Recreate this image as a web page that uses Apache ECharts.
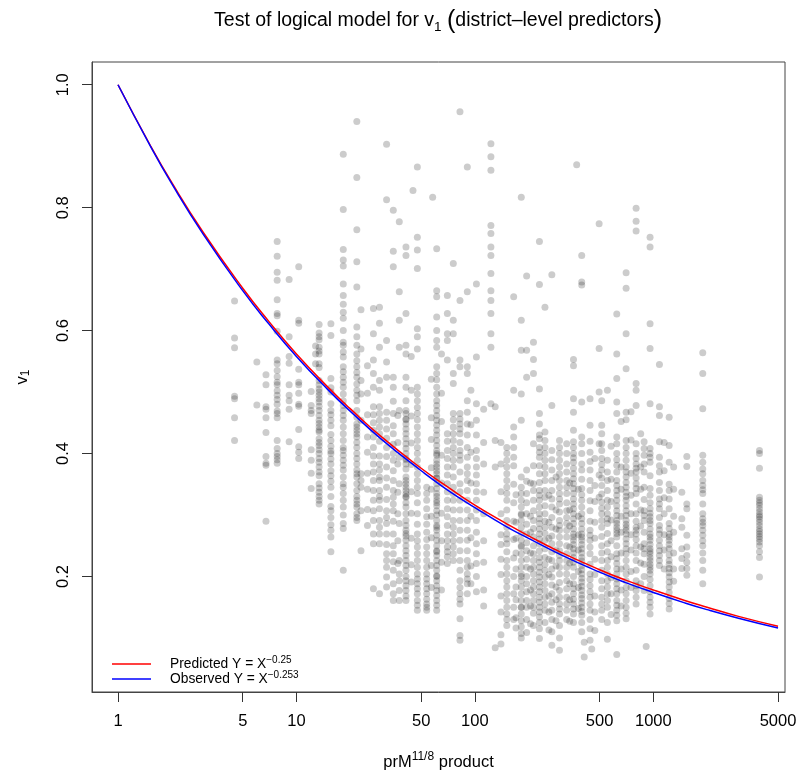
<!DOCTYPE html>
<html lang="en">
<head>
  <meta charset="UTF-8" />
  <title>Test of logical model for v1</title>
  <script src="https://cdn.jsdelivr.net/npm/echarts@6/dist/echarts.min.js"></script>
  <style>
    body { margin: 0; background: #fff; }
    #chart { width: 801px; height: 780px; }
  </style>
</head>
<body>
  <div id="chart"></div>
  <script>
    // x position of each vertical stripe of districts (prM^(11/8) product)
    const colX = [4.5, 6.0, 6.75, 7.8, 9.1, 10.3, 12.1, 12.8, 13.4, 15.6,
      18.3, 21.8, 23, 25, 27, 29.2, 32, 34.9, 37, 37.7, 41.1, 44, 45, 47.6, 53.7, 57, 58, 61.1, 65,
      70.1, 75.7, 82.5, 90.7, 95, 102, 112, 123, 130, 140, 151, 165, 170, 182, 195, 205, 213, 230, 247,
      260, 270, 285, 298, 327, 340, 357, 372, 380, 397, 410, 442, 452, 470, 497, 514, 553, 580, 624, 660,
      704, 750, 801, 850, 888, 912, 959, 1082, 1150, 1227, 1300, 1445, 1541, 1893, 3935];

    // v1 values observed in each stripe (same order as colX)
    const colY = [
      [0.648, 0.588, 0.572, 0.493, 0.489, 0.458, 0.421],
      [0.549, 0.479],
      [0.528, 0.512, 0.476, 0.472, 0.458, 0.434, 0.395, 0.384, 0.381, 0.290],
      [0.745, 0.721, 0.695, 0.682, 0.650, 0.628, 0.624, 0.599, 0.552, 0.546, 0.525, 0.516, 0.512, 0.502, 0.488, 0.469, 0.465, 0.421, 0.408, 0.400, 0.395, 0.384, 0.535, 0.495, 0.480, 0.458, 0.390],
      [0.683, 0.590, 0.558, 0.547, 0.512, 0.495, 0.486, 0.472, 0.419],
      [0.704, 0.617, 0.612, 0.537, 0.516, 0.512, 0.498, 0.480, 0.477, 0.439, 0.411, 0.402, 0.392],
      [0.501, 0.478, 0.470, 0.465, 0.406, 0.389, 0.368, 0.343],
      [0.575, 0.562, 0.546],
      [0.610, 0.596, 0.585, 0.573, 0.562, 0.546, 0.519, 0.505, 0.495, 0.484, 0.470, 0.454, 0.449, 0.443, 0.435, 0.424, 0.413, 0.400, 0.386, 0.378, 0.364, 0.351, 0.337, 0.324, 0.318,
       0.590, 0.567, 0.540, 0.512, 0.500, 0.489, 0.477, 0.462, 0.438, 0.418, 0.406, 0.392, 0.370, 0.344, 0.330],
      [0.611, 0.592, 0.522, 0.507, 0.481, 0.463, 0.454, 0.431, 0.421, 0.404, 0.400, 0.391, 0.383, 0.364, 0.345, 0.314, 0.307, 0.284, 0.264, 0.240,
       0.500, 0.470, 0.445, 0.412, 0.372, 0.355, 0.330, 0.296, 0.275],
      [0.887, 0.797, 0.732, 0.715, 0.705, 0.676, 0.657, 0.643, 0.630, 0.581, 0.576, 0.557, 0.541, 0.524, 0.508, 0.486, 0.470, 0.454, 0.432, 0.410, 0.405, 0.389, 0.373, 0.351, 0.345, 0.313, 0.286, 0.278, 0.210,
       0.620, 0.600, 0.565, 0.533, 0.516, 0.497, 0.478, 0.462, 0.443, 0.421, 0.397, 0.381, 0.362, 0.335, 0.324, 0.300],
      [0.940, 0.849, 0.764, 0.712, 0.671, 0.606, 0.576, 0.562, 0.541, 0.524, 0.513, 0.503, 0.486, 0.459, 0.448, 0.438, 0.427, 0.410, 0.400, 0.383, 0.373, 0.362, 0.351, 0.324, 0.313, 0.302, 0.291,
       0.590, 0.551, 0.532, 0.495, 0.470, 0.443, 0.432, 0.418, 0.392, 0.367, 0.340, 0.330, 0.318, 0.296],
      [0.634, 0.570, 0.519, 0.497, 0.454, 0.367, 0.356, 0.345, 0.307, 0.242],
      [0.543, 0.498, 0.463, 0.427, 0.402, 0.368, 0.342, 0.309, 0.283],
      [0.636, 0.595, 0.552, 0.530, 0.508, 0.476, 0.438, 0.427, 0.410, 0.383, 0.356, 0.324, 0.291, 0.269, 0.253, 0.180, 0.463, 0.450, 0.396, 0.370, 0.340, 0.307],
      [0.638, 0.612, 0.573, 0.519, 0.503, 0.476, 0.454, 0.432, 0.383, 0.373, 0.356, 0.340, 0.324, 0.291, 0.269, 0.253, 0.172, 0.465, 0.443, 0.420, 0.396, 0.362, 0.330, 0.310, 0.280],
      [0.903, 0.813, 0.584, 0.549, 0.524, 0.467, 0.454, 0.410, 0.378, 0.345, 0.307, 0.286, 0.269, 0.237, 0.215, 0.199, 0.183, 0.440, 0.425, 0.395, 0.360, 0.325, 0.296, 0.252, 0.226],
      [0.796, 0.729, 0.704, 0.524, 0.508, 0.465, 0.432, 0.400, 0.389, 0.356, 0.329, 0.307, 0.269, 0.237, 0.210, 0.172, 0.161, 0.485, 0.445, 0.415, 0.372, 0.340, 0.318, 0.290, 0.250, 0.224, 0.188],
      [0.462, 0.418, 0.383, 0.337, 0.302, 0.258, 0.221],
      [0.777, 0.663, 0.617, 0.573, 0.470, 0.394, 0.351, 0.286, 0.226, 0.204, 0.193, 0.177, 0.161],
      [0.736, 0.722, 0.628, 0.576, 0.562, 0.524, 0.508, 0.486, 0.465, 0.448, 0.432, 0.416, 0.400, 0.383, 0.362, 0.351, 0.340, 0.329, 0.313, 0.291, 0.275, 0.259, 0.242, 0.226, 0.210, 0.193, 0.177, 0.161,
       0.470, 0.456, 0.440, 0.424, 0.408, 0.392, 0.375, 0.356, 0.345, 0.334, 0.320, 0.302, 0.283, 0.266, 0.250, 0.234, 0.218, 0.200, 0.185, 0.168, 0.455, 0.390, 0.330, 0.270],
      [0.558, 0.503, 0.461, 0.417, 0.382, 0.338, 0.303, 0.262, 0.219, 0.191],
      [0.828],
      [0.866, 0.752, 0.731, 0.701, 0.603, 0.590, 0.570, 0.508, 0.497, 0.486, 0.465, 0.443, 0.421, 0.400, 0.378, 0.356, 0.335, 0.302, 0.269, 0.248, 0.226, 0.215, 0.204, 0.188, 0.172, 0.161, 0.145,
       0.475, 0.455, 0.432, 0.410, 0.389, 0.367, 0.345, 0.320, 0.285, 0.258, 0.237, 0.196, 0.180, 0.153],
      [0.345, 0.324, 0.297, 0.248, 0.226, 0.215, 0.204, 0.188, 0.172, 0.155, 0.145, 0.335, 0.310, 0.285, 0.272, 0.260, 0.237, 0.196, 0.180, 0.163, 0.150],
      [0.521, 0.458, 0.423, 0.377, 0.342, 0.298, 0.263, 0.218, 0.182],
      [0.817],
      [0.733, 0.665, 0.655, 0.622, 0.600, 0.584, 0.573, 0.541, 0.508, 0.486, 0.470, 0.454, 0.438, 0.421, 0.405, 0.389, 0.378, 0.367, 0.351, 0.335, 0.324, 0.307, 0.291, 0.275, 0.259, 0.242, 0.226, 0.210, 0.193, 0.177, 0.161, 0.145,
       0.530, 0.520, 0.497, 0.478, 0.462, 0.446, 0.430, 0.413, 0.397, 0.383, 0.372, 0.360, 0.343, 0.330, 0.315, 0.300, 0.283, 0.267, 0.250, 0.234, 0.218, 0.201, 0.185, 0.169, 0.153, 0.400, 0.360, 0.320, 0.280, 0.240, 0.200],
      [0.562, 0.498, 0.452, 0.397, 0.352, 0.303, 0.258, 0.223, 0.178],
      [0.657, 0.628, 0.595, 0.584, 0.552, 0.432, 0.405, 0.378, 0.351, 0.324, 0.297, 0.269, 0.248, 0.232, 0.221, 0.420, 0.392, 0.365, 0.338, 0.310, 0.283, 0.258, 0.240],
      [0.709, 0.617, 0.595, 0.530, 0.514, 0.465, 0.443, 0.421, 0.400, 0.378, 0.345, 0.324, 0.291, 0.269, 0.248, 0.226, 0.455, 0.432, 0.410, 0.389, 0.362, 0.335, 0.308, 0.280, 0.258, 0.237],
      [0.956, 0.649, 0.552, 0.541, 0.465, 0.448, 0.432, 0.405, 0.389, 0.351, 0.324, 0.291, 0.259, 0.226, 0.193, 0.172, 0.155, 0.131, 0.104, 0.096,
       0.456, 0.440, 0.418, 0.397, 0.370, 0.338, 0.308, 0.275, 0.242, 0.210, 0.182, 0.163],
      [0.866, 0.663, 0.541, 0.530, 0.486, 0.448, 0.410, 0.378, 0.356, 0.324, 0.291, 0.259, 0.226, 0.204, 0.188, 0.172, 0.467, 0.430, 0.394, 0.367, 0.340, 0.308, 0.275, 0.242, 0.215, 0.196],
      [0.503, 0.447, 0.402, 0.352, 0.298, 0.263, 0.217, 0.188],
      [0.676, 0.557, 0.481, 0.454, 0.405, 0.378, 0.351, 0.324, 0.291, 0.253, 0.221, 0.175, 0.430, 0.392, 0.365, 0.338, 0.308, 0.272, 0.237, 0.200],
      [0.472, 0.418, 0.383, 0.337, 0.302, 0.258, 0.223, 0.178, 0.152],
      [0.904, 0.883, 0.861, 0.771, 0.758, 0.736, 0.722, 0.693, 0.665, 0.649, 0.628, 0.595, 0.573, 0.481],
      [0.476, 0.421, 0.378, 0.084],
      [0.418, 0.383, 0.338, 0.302, 0.268, 0.252, 0.228, 0.203, 0.168, 0.142, 0.105, 0.090],
      [0.410, 0.389, 0.367, 0.345, 0.324, 0.291, 0.269, 0.253, 0.226, 0.204, 0.183, 0.161, 0.139,
       0.400, 0.378, 0.356, 0.335, 0.308, 0.280, 0.261, 0.240, 0.215, 0.193, 0.172, 0.150, 0.130, 0.120],
      [0.655, 0.503, 0.443, 0.427, 0.410, 0.394, 0.172, 0.380, 0.350, 0.320, 0.290, 0.260, 0.230, 0.200, 0.150, 0.130],
      [0.333, 0.288, 0.262, 0.238, 0.212, 0.183, 0.162, 0.133, 0.116],
      [0.817, 0.617, 0.568, 0.497, 0.454, 0.362, 0.345, 0.324, 0.302, 0.280, 0.259, 0.237, 0.215, 0.193, 0.172, 0.150, 0.128, 0.107, 0.100,
       0.335, 0.313, 0.291, 0.270, 0.248, 0.226, 0.204, 0.183, 0.161, 0.139, 0.118, 0.300, 0.250, 0.200, 0.150],
      [0.689, 0.568, 0.524, 0.373, 0.335, 0.302, 0.269, 0.242, 0.215, 0.188, 0.161, 0.109, 0.355, 0.320, 0.285, 0.255, 0.228, 0.200, 0.175, 0.150, 0.130],
      [0.352, 0.298, 0.272, 0.238, 0.212, 0.178, 0.152, 0.123],
      [0.581, 0.553, 0.530, 0.416, 0.351, 0.324, 0.291, 0.264, 0.237, 0.215, 0.193, 0.172, 0.150, 0.380, 0.340, 0.307, 0.278, 0.250, 0.226, 0.204, 0.183, 0.161, 0.140, 0.120],
      [0.745, 0.675, 0.505, 0.465, 0.448, 0.424, 0.410, 0.394, 0.367, 0.340, 0.324, 0.302, 0.286, 0.269, 0.253, 0.231, 0.215, 0.199, 0.183, 0.166, 0.150, 0.134, 0.099,
       0.430, 0.402, 0.380, 0.353, 0.332, 0.313, 0.294, 0.277, 0.261, 0.242, 0.223, 0.207, 0.191, 0.175, 0.158, 0.142, 0.125, 0.115],
      [0.638, 0.435, 0.421, 0.400, 0.378, 0.356, 0.329, 0.302, 0.280, 0.259, 0.231, 0.210, 0.188, 0.166, 0.145, 0.410, 0.389, 0.367, 0.340, 0.315, 0.290, 0.270, 0.245, 0.220, 0.199, 0.177, 0.155, 0.125],
      [0.332, 0.288, 0.262, 0.228, 0.203, 0.168, 0.142, 0.113],
      [0.691, 0.478, 0.405, 0.373, 0.340, 0.313, 0.280, 0.253, 0.226, 0.199, 0.172, 0.145, 0.088, 0.390, 0.356, 0.326, 0.296, 0.266, 0.240, 0.212, 0.186, 0.158, 0.130, 0.110],
      [0.362, 0.308, 0.277, 0.243, 0.217, 0.183, 0.162, 0.128],
      [0.421, 0.400, 0.378, 0.356, 0.335, 0.318, 0.291, 0.275, 0.253, 0.242, 0.226, 0.204, 0.177, 0.155, 0.139, 0.080,
       0.410, 0.389, 0.367, 0.345, 0.326, 0.305, 0.283, 0.264, 0.234, 0.215, 0.190, 0.166, 0.147, 0.120, 0.100],
      [0.416, 0.383, 0.356, 0.335, 0.307, 0.286, 0.264, 0.237, 0.215, 0.193, 0.166, 0.145, 0.400, 0.370, 0.345, 0.320, 0.296, 0.275, 0.250, 0.226, 0.204, 0.180, 0.155, 0.130],
      [0.352, 0.308, 0.282, 0.248, 0.222, 0.188, 0.162, 0.127],
      [0.553, 0.543, 0.489, 0.467, 0.438, 0.419, 0.400, 0.386, 0.367, 0.351, 0.335, 0.318, 0.302, 0.286, 0.269, 0.259, 0.245, 0.231, 0.215, 0.188, 0.172, 0.155, 0.139,
       0.410, 0.393, 0.376, 0.359, 0.343, 0.326, 0.310, 0.294, 0.277, 0.264, 0.252, 0.238, 0.223, 0.200, 0.180, 0.163, 0.147, 0.125],
      [0.870],
      [0.342, 0.298, 0.268, 0.243, 0.208, 0.182, 0.148],
      [0.722, 0.679, 0.674, 0.484, 0.427, 0.416, 0.373, 0.343, 0.324, 0.302, 0.286, 0.269, 0.259, 0.245, 0.231, 0.218, 0.204, 0.191, 0.177, 0.164, 0.150, 0.137,
       0.400, 0.383, 0.358, 0.333, 0.313, 0.294, 0.277, 0.264, 0.252, 0.238, 0.225, 0.211, 0.197, 0.184, 0.170, 0.157, 0.143, 0.125, 0.110],
      [0.069, 0.093],
      [0.489, 0.446, 0.402, 0.373, 0.340, 0.307, 0.275, 0.259, 0.237, 0.204, 0.185, 0.166, 0.145, 0.096, 0.420, 0.387, 0.356, 0.323, 0.290, 0.267, 0.248, 0.220, 0.195, 0.175, 0.155, 0.130, 0.115],
      [0.082],
      [0.392, 0.348, 0.322, 0.288, 0.262, 0.228, 0.203, 0.168, 0.142, 0.112],
      [0.774, 0.571, 0.500, 0.416, 0.365, 0.329],
      [0.486, 0.446, 0.432, 0.416, 0.392, 0.373, 0.348, 0.321, 0.302, 0.280, 0.250, 0.226, 0.193, 0.166, 0.145, 0.405, 0.382, 0.360, 0.334, 0.311, 0.291, 0.265, 0.238, 0.210, 0.180, 0.155, 0.130],
      [0.503, 0.389, 0.356, 0.324, 0.302, 0.286, 0.253, 0.226, 0.204, 0.183, 0.161, 0.098, 0.370, 0.340, 0.313, 0.294, 0.270, 0.240, 0.215, 0.193, 0.172, 0.150, 0.125],
      [0.412, 0.358, 0.322, 0.292, 0.258, 0.232, 0.198, 0.172, 0.138],
      [0.627, 0.562, 0.522, 0.484, 0.465, 0.427, 0.416, 0.400, 0.381, 0.356, 0.340, 0.324, 0.307, 0.291, 0.286, 0.275, 0.264, 0.237, 0.221, 0.204, 0.188, 0.172, 0.161, 0.145, 0.128, 0.073,
       0.390, 0.370, 0.348, 0.332, 0.315, 0.299, 0.280, 0.270, 0.250, 0.229, 0.212, 0.196, 0.180, 0.153, 0.137],
      [0.452, 0.378, 0.342, 0.298, 0.272, 0.238, 0.212, 0.178, 0.152],
      [0.694, 0.669, 0.595, 0.538, 0.467, 0.455, 0.421, 0.400, 0.378, 0.362, 0.345, 0.337, 0.324, 0.307, 0.291, 0.280, 0.269, 0.253, 0.237, 0.215, 0.193, 0.172, 0.150, 0.131,
       0.410, 0.389, 0.370, 0.353, 0.330, 0.315, 0.299, 0.285, 0.275, 0.261, 0.245, 0.226, 0.204, 0.182, 0.161, 0.140],
      [0.468, 0.422, 0.368, 0.332, 0.302, 0.268, 0.243, 0.208, 0.182],
      [0.799, 0.778, 0.762, 0.514, 0.503, 0.478, 0.416, 0.400, 0.383, 0.370, 0.351, 0.335, 0.302, 0.280, 0.269, 0.250, 0.226, 0.193, 0.177, 0.155,
       0.392, 0.376, 0.360, 0.343, 0.318, 0.290, 0.275, 0.260, 0.238, 0.210, 0.185, 0.166],
      [0.432, 0.378, 0.342, 0.308, 0.282, 0.248, 0.222, 0.188],
      [0.419, 0.408, 0.397, 0.383, 0.345, 0.307, 0.291, 0.253, 0.237, 0.177, 0.370, 0.325, 0.299, 0.272, 0.245, 0.220, 0.200],
      [0.086],
      [0.752, 0.736, 0.611, 0.571, 0.481, 0.408, 0.394, 0.386, 0.343, 0.332, 0.310, 0.297, 0.286, 0.269, 0.259, 0.245, 0.237, 0.226, 0.215, 0.204, 0.185, 0.166, 0.150, 0.139,
       0.400, 0.364, 0.320, 0.303, 0.291, 0.277, 0.264, 0.252, 0.241, 0.231, 0.220, 0.210, 0.195, 0.175, 0.158],
      [0.545, 0.476, 0.462, 0.419, 0.394, 0.370, 0.353, 0.326, 0.310, 0.283, 0.269, 0.250, 0.234, 0.218, 0.380, 0.340, 0.318, 0.296, 0.276, 0.259, 0.242, 0.226],
      [0.418, 0.372, 0.328, 0.302, 0.268, 0.243, 0.212],
      [0.459, 0.413, 0.386, 0.340, 0.326, 0.286, 0.269, 0.259, 0.245, 0.226, 0.213, 0.199, 0.183, 0.164, 0.147, 0.350, 0.310, 0.278, 0.264, 0.252, 0.235, 0.220, 0.206, 0.191, 0.174, 0.156],
      [0.378, 0.342, 0.298, 0.272, 0.238, 0.212, 0.192],
      [0.337, 0.294, 0.280, 0.245, 0.229, 0.213],
      [0.395, 0.379, 0.318, 0.310, 0.267, 0.248, 0.234, 0.223, 0.213, 0.202],
      [0.564, 0.530, 0.473, 0.397, 0.386, 0.375, 0.356, 0.348, 0.335, 0.302, 0.294, 0.283, 0.267, 0.250, 0.226, 0.188, 0.367, 0.341, 0.318, 0.288, 0.275, 0.258, 0.238, 0.210],
      [0.405, 0.400, 0.376, 0.329, 0.324, 0.316, 0.305, 0.297, 0.288, 0.277, 0.269, 0.261, 0.250, 0.231, 0.199, 0.320, 0.310, 0.300, 0.293, 0.283, 0.273, 0.265, 0.256, 0.240]
    ];

    // the two model curves
    const curveX = [1, 1.5, 2, 3, 5, 7, 10, 15, 20, 30, 50, 70, 100, 150, 200, 300, 500, 700, 1000, 1500, 2000, 3000, 5000];
    const predY = [1, 0.904, 0.841, 0.760, 0.669, 0.615, 0.562, 0.508, 0.473, 0.427, 0.376, 0.346, 0.316, 0.286, 0.266, 0.240, 0.211, 0.194, 0.178, 0.161, 0.150, 0.135, 0.119];
    const obsY = [1, 0.903, 0.839, 0.757, 0.665, 0.611, 0.558, 0.504, 0.469, 0.423, 0.372, 0.341, 0.312, 0.281, 0.262, 0.236, 0.207, 0.190, 0.174, 0.157, 0.146, 0.132, 0.116];

    const xTicks = [1, 5, 10, 50, 100, 500, 1000, 5000];
    const yTicks = [0.2, 0.4, 0.6, 0.8, 1.0];

    const FONT = '"Liberation Sans", Arial, sans-serif';
    const lg = v => Math.log10(v);

    // x is drawn on a log10 scale
    const points = [];
    colX.forEach((x, i) => colY[i].forEach(y => points.push([lg(x), y])));
    const predLine = curveX.map((x, i) => [lg(x), predY[i]]);
    const obsLine = curveX.map((x, i) => [lg(x), obsY[i]]);

    const fmtX = v => {
      const t = xTicks.find(t => Math.abs(lg(t) - v) < 1e-6);
      return t === undefined ? '' : String(t);
    };

    const chart = echarts.init(document.getElementById('chart'));

    chart.setOption({
      animation: false,
      textStyle: { fontFamily: FONT, color: '#000' },
      title: {
        text: '{b|Test of logical model for v}{sub|1}{b| }{par|(}{b|district\u2013level predictors}{par|)}',
        left: 438,
        top: 8,
        padding: 0,
        textAlign: 'center',
        textStyle: {
          fontFamily: FONT,
          fontWeight: 'normal',
          rich: {
            b: { fontFamily: FONT, fontSize: 19.5, lineHeight: 26, color: '#000' },
            par: { fontFamily: FONT, fontSize: 25, lineHeight: 26, color: '#000' },
            sub: { fontFamily: FONT, fontSize: 13.5, lineHeight: 13, verticalAlign: 'bottom', color: '#000' }
          }
        }
      },
      legend: {
        data: ['Predicted', 'Observed'],
        orient: 'vertical',
        left: 112,
        top: 655,
        padding: 0,
        itemGap: -1,
        icon: 'rect',
        itemWidth: 39,
        itemHeight: 1.5,
        formatter: n => n === 'Predicted'
          ? '{b|Predicted Y = X}{sup|\u22120.25}'
          : '{b|Observed Y = X}{sup|\u22120.253}',
        textStyle: {
          padding: [0, 0, 0, 14],
          rich: {
            b: { fontFamily: FONT, fontSize: 13.8, lineHeight: 18, color: '#000' },
            sup: { fontFamily: FONT, fontSize: 10, lineHeight: 9, verticalAlign: 'top', color: '#000' }
          }
        }
      },
      grid: {
        left: 92, right: 16, top: 62, bottom: 88,
        show: true, borderColor: '#444', borderWidth: 1,
        outerBoundsMode: 'none'
      },
      xAxis: {
        type: 'value',
        min: -0.1457,
        max: 3.738,
        name: '{b|prM}{sup|11/8}{b| product}',
        nameLocation: 'middle',
        nameGap: 59,
        nameTextStyle: {
          rich: {
            b: { fontFamily: FONT, fontSize: 16.5, lineHeight: 22, color: '#000' },
            sup: { fontFamily: FONT, fontSize: 12, lineHeight: 12, verticalAlign: 'top', color: '#000' }
          }
        },
        axisLine: { show: true, onZero: false, lineStyle: { color: '#444', width: 1 } },
        splitLine: { show: false },
        axisTick: { show: true, inside: false, customValues: xTicks.map(lg), length: 10, lineStyle: { color: '#333' } },
        axisLabel: {
          customValues: xTicks.map(lg),
          formatter: fmtX,
          margin: 21,
          fontSize: 16.5,
          color: '#000',
          fontFamily: FONT
        }
      },
      yAxis: {
        type: 'value',
        min: 0.012,
        max: 1.037,
        name: '{b|v}{sub|1}',
        nameLocation: 'middle',
        nameRotate: 90,
        nameGap: 60,
        nameTextStyle: {
          rich: {
            b: { fontFamily: FONT, fontSize: 16.5, lineHeight: 20, color: '#000' },
            sub: { fontFamily: FONT, fontSize: 12, lineHeight: 12, verticalAlign: 'bottom', color: '#000' }
          }
        },
        axisLine: { show: true, onZero: false, lineStyle: { color: '#444', width: 1 } },
        splitLine: { show: false },
        axisTick: { show: true, inside: false, customValues: yTicks, length: 10, lineStyle: { color: '#333' } },
        axisLabel: {
          customValues: yTicks,
          formatter: v => v.toFixed(1),
          rotate: 90,
          margin: 20,
          fontSize: 16.5,
          color: '#000',
          fontFamily: FONT
        }
      },
      series: [
        {
          name: 'Districts',
          type: 'scatter',
          data: points,
          symbolSize: 7,
          silent: true,
          itemStyle: { color: 'rgba(0,0,0,0.25)' }
        },
        {
          name: 'Predicted',
          type: 'line',
          data: predLine,
          smooth: true,
          showSymbol: false,
          silent: true,
          lineStyle: { color: '#ff0000', width: 1.5 },
          itemStyle: { color: '#ff0000' }
        },
        {
          name: 'Observed',
          type: 'line',
          data: obsLine,
          smooth: true,
          showSymbol: false,
          silent: true,
          lineStyle: { color: '#0000ff', width: 1.5 },
          itemStyle: { color: '#0000ff' }
        }
      ]
    });
  </script>
</body>
</html>
